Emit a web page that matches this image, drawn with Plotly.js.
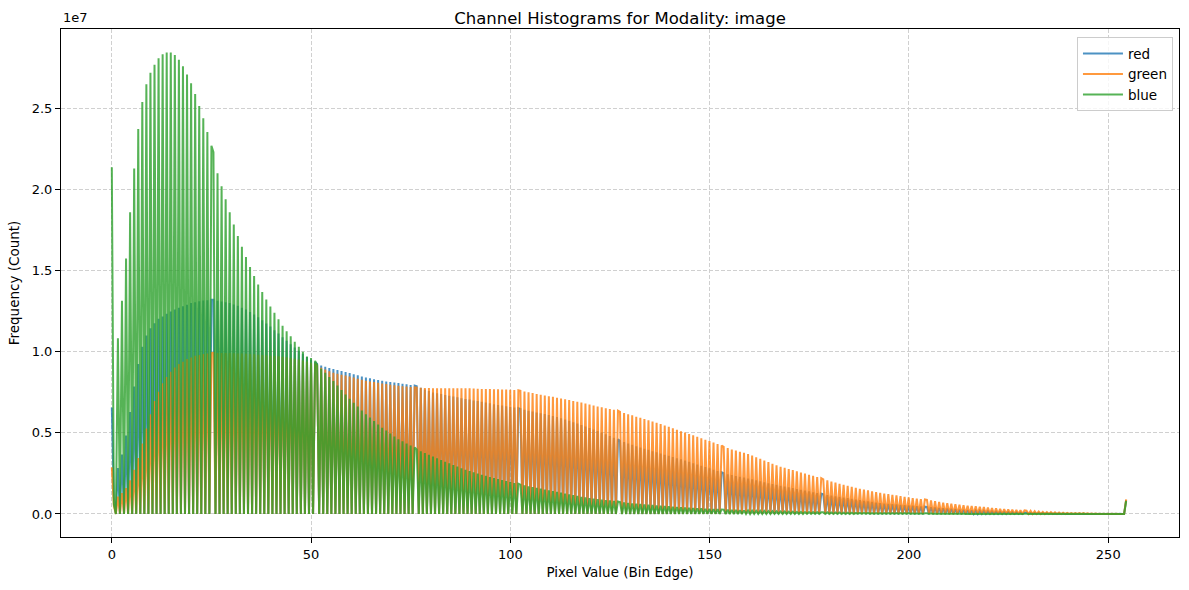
<!DOCTYPE html>
<html>
<head>
<meta charset="utf-8">
<script src="https://cdn.plot.ly/plotly-3.0.1.min.js"></script>
<style>
  html, body { margin: 0; padding: 0; background: #ffffff; }
  #chart { width: 1189px; height: 590px; }
</style>
</head>
<body>
<div id="chart"></div>
<script>
// Histogram counts (in millions) per integer pixel value 0..255
const pixelValues = Array.from({length: 256}, (_, i) => i);

const redCounts = [
  6.57, 1.0, 2.83, 3.66, 4.84, 6.28, 7.85, 9.24, 10.31, 11.0,
  11.45, 11.76, 12.03, 12.17, 12.34, 12.48, 12.6, 12.71, 12.81, 12.9,
  13.0, 13.06, 13.12, 13.16, 13.18, 13.2, 13.2, 13.15, 13.1, 13.05,
  13.0, 12.92, 12.83, 12.72, 12.6, 12.45, 12.3, 12.13, 11.95, 11.75,
  11.55, 11.33, 11.12, 10.9, 10.68, 10.47, 10.26, 10.06, 9.87, 9.68,
  9.5, 9.35, 9.25, 9.15, 9.07, 9.0, 8.93, 8.87, 8.81, 8.75,
  8.69, 8.62, 8.55, 8.48, 8.42, 8.37, 8.31, 8.26, 8.21, 8.17,
  8.13, 8.1, 8.07, 8.03, 7.99, 7.95, 7.91, 7.87, 7.78, 7.68,
  7.58, 7.49, 7.44, 7.39, 7.34, 7.29, 7.24, 7.19, 7.14, 7.09,
  7.05, 7.0, 6.96, 6.92, 6.87, 6.82, 6.77, 6.72, 6.68, 6.64,
  6.6, 6.56, 6.52, 6.47, 6.42, 6.36, 6.31, 6.26, 6.21, 6.16,
  6.1, 6.04, 5.97, 5.9, 5.83, 5.75, 5.66, 5.57, 5.48, 5.39,
  5.3, 5.21, 5.12, 5.02, 4.92, 4.81, 4.7, 4.6, 4.51, 4.43,
  4.35, 4.26, 4.18, 4.1, 4.02, 3.95, 3.87, 3.8, 3.72, 3.65,
  3.58, 3.51, 3.44, 3.37, 3.29, 3.21, 3.13, 3.05, 2.97, 2.89,
  2.81, 2.73, 2.65, 2.57, 2.51, 2.45, 2.4, 2.34, 2.29, 2.24,
  2.19, 2.13, 2.07, 2.01, 1.95, 1.89, 1.84, 1.79, 1.74, 1.69,
  1.64, 1.59, 1.54, 1.49, 1.44, 1.39, 1.34, 1.29, 1.25, 1.21,
  1.17, 1.13, 1.09, 1.05, 1.01, 0.97, 0.93, 0.89, 0.85, 0.81,
  0.77, 0.74, 0.7, 0.67, 0.64, 0.62, 0.6, 0.58, 0.56, 0.54,
  0.52, 0.5, 0.48, 0.46, 0.45, 0.43, 0.41, 0.39, 0.37, 0.35,
  0.33, 0.31, 0.29, 0.27, 0.25, 0.23, 0.22, 0.21, 0.2, 0.19,
  0.17, 0.16, 0.15, 0.14, 0.13, 0.12, 0.11, 0.1, 0.09, 0.08,
  0.07, 0.06, 0.06, 0.05, 0.05, 0.04, 0.04, 0.03, 0.03, 0.03,
  0.02, 0.02, 0.02, 0.02, 0.02, 0.01, 0.01, 0.01, 0.01, 0.01,
  0.01, 0.01, 0.01, 0.01, 0.01, 0.85
];

const greenCounts = [
  2.87, 0.5, 1.07, 1.28, 1.59, 2.07, 2.73, 3.45, 4.34, 5.27,
  6.14, 6.96, 7.54, 8.06, 8.45, 8.76, 9.03, 9.24, 9.38, 9.55,
  9.65, 9.75, 9.8, 9.86, 9.9, 9.92, 9.93, 9.93, 9.93, 9.92,
  9.92, 9.91, 9.9, 9.89, 9.87, 9.86, 9.84, 9.82, 9.8, 9.78,
  9.76, 9.74, 9.72, 9.69, 9.66, 9.62, 9.57, 9.52, 9.46, 9.4,
  9.33, 9.26, 9.14, 9.02, 8.9, 8.8, 8.71, 8.65, 8.59, 8.53,
  8.47, 8.41, 8.34, 8.27, 8.21, 8.17, 8.13, 8.09, 8.05, 8.01,
  7.97, 7.93, 7.9, 7.87, 7.85, 7.82, 7.8, 7.79, 7.78, 7.77,
  7.76, 7.75, 7.75, 7.75, 7.75, 7.75, 7.75, 7.75, 7.75, 7.75,
  7.75, 7.73, 7.72, 7.71, 7.7, 7.7, 7.69, 7.69, 7.68, 7.67,
  7.65, 7.64, 7.62, 7.59, 7.55, 7.5, 7.45, 7.4, 7.35, 7.3,
  7.26, 7.22, 7.17, 7.12, 7.07, 7.02, 6.97, 6.92, 6.87, 6.81,
  6.75, 6.69, 6.63, 6.58, 6.52, 6.47, 6.42, 6.36, 6.29, 6.22,
  6.15, 6.08, 6.0, 5.93, 5.85, 5.78, 5.7, 5.62, 5.54, 5.46,
  5.37, 5.28, 5.19, 5.1, 5.02, 4.93, 4.85, 4.76, 4.67, 4.58,
  4.49, 4.4, 4.31, 4.22, 4.14, 4.06, 3.98, 3.91, 3.84, 3.77,
  3.7, 3.6, 3.5, 3.4, 3.3, 3.2, 3.1, 3.0, 2.91, 2.84,
  2.77, 2.7, 2.63, 2.56, 2.49, 2.42, 2.35, 2.28, 2.21, 2.14,
  2.07, 2.0, 1.93, 1.86, 1.79, 1.73, 1.67, 1.61, 1.55, 1.5,
  1.45, 1.4, 1.35, 1.3, 1.26, 1.22, 1.18, 1.14, 1.1, 1.06,
  1.02, 0.98, 0.95, 0.92, 0.9, 0.87, 0.83, 0.79, 0.74, 0.7,
  0.66, 0.63, 0.6, 0.57, 0.54, 0.51, 0.49, 0.47, 0.45, 0.42,
  0.4, 0.37, 0.35, 0.32, 0.3, 0.28, 0.26, 0.25, 0.23, 0.22,
  0.2, 0.19, 0.17, 0.15, 0.13, 0.12, 0.11, 0.1, 0.09, 0.08,
  0.07, 0.06, 0.06, 0.05, 0.05, 0.04, 0.03, 0.03, 0.02, 0.02,
  0.01, 0.01, 0.01, 0.0, 0.0, 0.9
];

const blueCounts = [
  21.37, 0.6, 10.83, 13.14, 15.75, 18.6, 21.3, 23.74, 25.4, 26.5,
  27.2, 27.7, 28.1, 28.35, 28.45, 28.45, 28.3, 28.0, 27.6, 27.1,
  26.55, 25.9, 25.15, 24.4, 23.55, 22.7, 22.3, 21.0, 20.2, 19.4,
  18.6, 17.85, 17.13, 16.47, 15.85, 15.23, 14.67, 14.15, 13.68, 13.22,
  12.79, 12.4, 12.01, 11.61, 11.26, 10.95, 10.62, 10.31, 10.0, 9.71,
  9.62, 9.44, 9.2, 8.95, 8.7, 8.45, 8.2, 7.92, 7.64, 7.36,
  7.1, 6.86, 6.62, 6.38, 6.15, 5.94, 5.73, 5.52, 5.32, 5.14,
  4.96, 4.78, 4.61, 4.48, 4.35, 4.22, 4.1, 3.98, 3.87, 3.76,
  3.65, 3.54, 3.43, 3.32, 3.22, 3.12, 3.02, 2.92, 2.82, 2.73,
  2.65, 2.57, 2.49, 2.42, 2.35, 2.28, 2.21, 2.15, 2.09, 2.03,
  1.97, 1.91, 1.86, 1.81, 1.76, 1.71, 1.66, 1.61, 1.56, 1.51,
  1.46, 1.41, 1.36, 1.31, 1.26, 1.21, 1.16, 1.11, 1.06, 1.02,
  0.98, 0.95, 0.92, 0.89, 0.86, 0.83, 0.8, 0.77, 0.74, 0.71,
  0.68, 0.65, 0.63, 0.61, 0.59, 0.57, 0.55, 0.53, 0.51, 0.49,
  0.47, 0.45, 0.43, 0.41, 0.4, 0.38, 0.37, 0.35, 0.34, 0.32,
  0.31, 0.3, 0.29, 0.28, 0.27, 0.26, 0.25, 0.24, 0.23, 0.22,
  0.21, 0.2, 0.19, 0.19, 0.18, 0.17, 0.17, 0.16, 0.15, 0.15,
  0.14, 0.14, 0.13, 0.13, 0.12, 0.12, 0.11, 0.11, 0.1, 0.1,
  0.1, 0.09, 0.09, 0.09, 0.08, 0.08, 0.08, 0.07, 0.07, 0.07,
  0.07, 0.06, 0.06, 0.06, 0.06, 0.05, 0.05, 0.05, 0.05, 0.05,
  0.05, 0.04, 0.04, 0.04, 0.04, 0.04, 0.04, 0.03, 0.03, 0.03,
  0.03, 0.03, 0.03, 0.03, 0.03, 0.02, 0.02, 0.02, 0.02, 0.02,
  0.02, 0.02, 0.02, 0.02, 0.02, 0.01, 0.01, 0.01, 0.01, 0.01,
  0.01, 0.01, 0.01, 0.01, 0.01, 0.01, 0.01, 0.01, 0.01, 0.01,
  0.01, 0.01, 0.01, 0.01, 0.01, 0.0, 0.0, 0.0, 0.0, 0.0,
  0.0, 0.0, 0.0, 0.0, 0.0, 0.8
];

const seriesNames = ['red', 'green', 'blue'];
const seriesColors = ['rgba(31,119,180,0.8)', 'rgba(255,127,14,0.8)', 'rgba(44,160,44,0.8)'];

const xTickVals = [0, 50, 100, 150, 200, 250];
const yTickVals = [0, 5e6, 1e7, 1.5e7, 2e7, 2.5e7];
const yTickText = ['0.0', '0.5', '1.0', '1.5', '2.0', '2.5'];

// Histogram structure: 500 equal bins over [0, 255]; x is the left bin edge
const binCount = 500;
const rangeMax = 255;
const binEdges = Array.from({length: binCount}, (_, i) => i * rangeMax / binCount);

function toBins(counts) {
  const y = new Array(binCount).fill(0);
  pixelValues.forEach((v, i) => {
    const b = Math.min(Math.floor(v * binCount / rangeMax), binCount - 1);
    y[b] += counts[i] * 1e6;
  });
  return y;
}

const allCounts = [redCounts, greenCounts, blueCounts];
const traces = allCounts.map((c, k) => ({
  type: 'scatter',
  mode: 'lines',
  name: seriesNames[k],
  x: binEdges,
  y: toBins(c),
  line: {color: seriesColors[k], width: 2, simplify: false},
  hoverinfo: 'skip'
}));

const font = 'DejaVu Sans, Arial, sans-serif';
const axisCommon = {
  showline: true, linecolor: '#000', linewidth: 1, mirror: true,
  ticks: 'outside', ticklen: 5, tickwidth: 1, tickcolor: '#000',
  showgrid: true, gridcolor: '#d0d0d0', gridwidth: 1, griddash: '4px,2px',
  zeroline: false,
  tickfont: {family: font, size: 13, color: '#000'}
};

const layout = {
  width: 1189, height: 590,
  paper_bgcolor: '#fff', plot_bgcolor: '#fff',
  margin: {l: 61, r: 10, t: 29, b: 53},
  font: {family: font, color: '#000'},
  title: {text: 'Channel Histograms for Modality: image', font: {family: font, size: 16.5, color: '#000'},
          x: 0.5, xref: 'paper', y: 1 - 18 / 590, yref: 'container', yanchor: 'middle'},
  xaxis: Object.assign({}, axisCommon, {
    range: [-12.75, 267.75], tickvals: xTickVals,
    title: {text: 'Pixel Value (Bin Edge)', font: {family: font, size: 13.5, color: '#000'}, standoff: 6}
  }),
  yaxis: Object.assign({}, axisCommon, {
    range: [-1.42e6, 2.99e7], tickvals: yTickVals, ticktext: yTickText,
    title: {text: 'Frequency (Count)', font: {family: font, size: 13.5, color: '#000'}, standoff: 8}
  }),
  legend: {
    x: 0.9946, xanchor: 'right', y: 0.984, yanchor: 'top',
    bgcolor: 'rgba(255,255,255,0.8)', bordercolor: '#cccccc', borderwidth: 1,
    font: {family: font, size: 13.5, color: '#000'}, itemwidth: 40, tracegroupgap: 0
  },
  annotations: [{
    text: '1e7', xref: 'paper', yref: 'paper', x: 0, y: 1, xanchor: 'left', yanchor: 'bottom',
    yshift: 2, showarrow: false, font: {family: font, size: 13, color: '#000'}
  }],
  showlegend: true
};

Plotly.newPlot('chart', traces, layout, {displayModeBar: false, staticPlot: true});
</script>
</body>
</html>
